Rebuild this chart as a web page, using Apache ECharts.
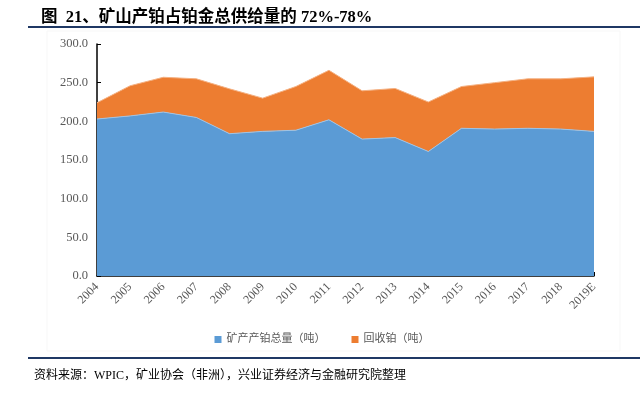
<!DOCTYPE html>
<html>
<head>
<meta charset="utf-8">
<script src="https://cdn.jsdelivr.net/npm/echarts@6/dist/echarts.min.js"></script>
<style>
  html, body { margin: 0; padding: 0; background: #fff; }
  #chart { width: 644px; height: 397px; }
</style>
</head>
<body>
<div id="chart"></div>
<script>
// data (tonnes)
const years = ['2004', '2005', '2006', '2007', '2008', '2009', '2010', '2011',
  '2012', '2013', '2014', '2015', '2016', '2017', '2018', '2019E'];
const mineSupply = [203, 207, 212, 205, 184, 187, 188.5, 202, 177, 179, 161, 191, 190, 191, 190, 187];
const recycling = [21, 39, 45, 50, 58, 43, 56.5, 64, 62.5, 63.5, 64, 54, 60, 64, 65, 70.5];
const seriesNames = ['矿产产铂总量（吨）', '回收铂（吨）'];

const serif = '"Liberation Serif", "Noto Sans CJK SC", serif';

const chart = echarts.init(document.getElementById('chart'));

chart.setOption({
  animation: false,
  color: ['#5b9bd5', '#ed7d31'],
  title: {
    text: '图  21、矿山产铂占铂金总供给量的 72%-78%',
    left: 36,
    top: 4,
    textStyle: { fontFamily: serif, fontSize: 16.5, fontWeight: 'bold', color: '#000' }
  },
  graphic: [
    // rule under the title
    { type: 'rect', shape: { x: 28, y: 26, width: 612, height: 2 }, style: { fill: '#1f3864' } },
    // faint chart frame
    { type: 'rect', shape: { x: 47, y: 31, width: 573, height: 320 }, style: { fill: 'none', stroke: '#f7f7f7', lineWidth: 1 } },
    // rule above the source
    { type: 'rect', shape: { x: 28, y: 357, width: 612, height: 2 }, style: { fill: '#1f3864' } },
    {
      type: 'text', left: 34, top: 370,
      style: { text: '资料来源：WPIC，矿业协会（非洲），兴业证券经济与金融研究院整理', fontFamily: serif, fontSize: 12, fill: '#000' }
    }
  ],
  legend: {
    bottom: 47,
    left: 'center',
    itemWidth: 7,
    itemHeight: 7,
    itemGap: 26,
    icon: 'rect',
    textStyle: { fontFamily: serif, fontSize: 11, color: '#595959' },
    data: seriesNames
  },
  grid: { left: 97, right: 50, top: 44, bottom: 121, containLabel: false },
  xAxis: {
    type: 'category',
    boundaryGap: false,
    data: years,
    axisLine: { lineStyle: { color: '#000', width: 1.5 } },
    axisTick: { inside: true, length: 4, alignWithLabel: true, lineStyle: { color: '#000' } },
    axisLabel: { rotate: 45, interval: 0, fontFamily: serif, fontSize: 12, color: '#595959', margin: 9 }
  },
  yAxis: {
    type: 'value',
    min: 0,
    max: 300,
    interval: 50,
    splitLine: { show: false },
    axisLine: { show: true, lineStyle: { color: '#000', width: 1.5 } },
    axisTick: { show: true, inside: true, length: 4, lineStyle: { color: '#000' } },
    axisLabel: {
      fontFamily: serif, fontSize: 12.5, color: '#595959', margin: 9,
      formatter: v => v.toFixed(1)
    }
  },
  series: [
    {
      name: seriesNames[0],
      type: 'line',
      stack: 'supply',
      data: mineSupply,
      symbol: 'none',
      lineStyle: { width: 1, color: '#9cc3e6' },
      areaStyle: { color: '#5b9bd5', opacity: 1 }
    },
    {
      name: seriesNames[1],
      type: 'line',
      stack: 'supply',
      data: recycling,
      symbol: 'none',
      lineStyle: { width: 1, color: '#f4b183' },
      areaStyle: { color: '#ed7d31', opacity: 1 }
    }
  ]
});
</script>
</body>
</html>
